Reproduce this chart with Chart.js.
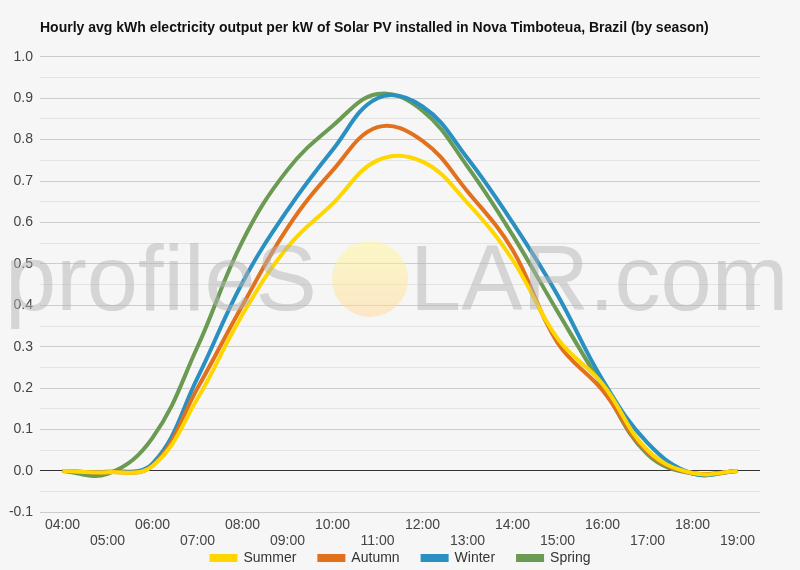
<!DOCTYPE html>
<html lang="en">
<head>
    <meta charset="UTF-8">
    <title>Hourly avg kWh electricity output - Nova Timboteua</title>
    <script src="https://cdn.jsdelivr.net/npm/chart.js"></script>
    <style>
        body { margin: 0; background-color: #f6f6f6; }
        .wrap { width: 800px; height: 570px; position: relative; }
    </style>
</head>
<body>
    <div class="wrap"><canvas id="pvChart"></canvas></div>

    <script>
        const hours = ['04:00', '05:00', '06:00', '07:00', '08:00', '09:00', '10:00', '11:00',
                       '12:00', '13:00', '14:00', '15:00', '16:00', '17:00', '18:00', '19:00'];

        const summer = [0, -0.003, 0.012, 0.175, 0.378, 0.54, 0.645, 0.75, 0.747, 0.647, 0.51, 0.32, 0.21, 0.05, -0.005, 0];
        const autumn = [0, -0.003, 0.013, 0.20, 0.40, 0.587, 0.725, 0.83, 0.797, 0.675, 0.534, 0.31, 0.195, 0.045, -0.005, 0];
        const winter = [0, -0.002, 0.018, 0.225, 0.455, 0.63, 0.775, 0.90, 0.88, 0.755, 0.60, 0.425, 0.22, 0.068, -0.006, 0];
        const spring = [0, -0.007, 0.08, 0.30, 0.555, 0.727, 0.833, 0.91, 0.87, 0.735, 0.57, 0.385, 0.205, 0.04, -0.006, 0];

        const yTicks = { min: -0.1, max: 1.0, step: 0.05 };

        const font = "Arial, 'Liberation Sans', sans-serif";

        // watermark drawn over the lines, like the original
        const watermark = {
            id: 'watermark',
            afterDatasetsDraw(chart) {
                const ctx = chart.ctx;
                ctx.save();
                ctx.font = '92px ' + font;
                ctx.textBaseline = 'alphabetic';
                ctx.fillStyle = 'rgba(180,180,180,0.5)';
                ctx.fillText('profileS', 5, 310);
                ctx.fillText('LAR.com', 410, 310);
                const g = ctx.createLinearGradient(0, 241, 0, 317);
                g.addColorStop(0, 'rgba(255,248,150,0.5)');
                g.addColorStop(1, 'rgba(255,215,150,0.5)');
                ctx.fillStyle = g;
                ctx.beginPath();
                ctx.arc(370, 279, 38, 0, Math.PI * 2);
                ctx.fill();
                ctx.restore();
            }
        };

        // legend drawn by hand: the built-in one can't sit this close to the axis labels
        const bottomLegend = {
            id: 'bottomLegend',
            afterDraw(chart) {
                const ctx = chart.ctx;
                const sets = chart.data.datasets;
                const boxW = 28, boxH = 8, gap = 6, spacing = 21, y = 558;
                ctx.save();
                ctx.font = '14px ' + font;
                ctx.textBaseline = 'middle';
                let total = 0;
                sets.forEach((s, i) => {
                    total += boxW + gap + ctx.measureText(s.label).width + (i ? spacing : 0);
                });
                let x = chart.width / 2 - total / 2;
                sets.forEach(s => {
                    ctx.fillStyle = s.borderColor;
                    ctx.fillRect(x, y - boxH / 2, boxW, boxH);
                    x += boxW + gap;
                    ctx.fillStyle = '#333';
                    ctx.fillText(s.label, x, y);
                    x += ctx.measureText(s.label).width + spacing;
                });
                ctx.restore();
            }
        };

        function makeSet(label, data, color) {
            return {
                label: label,
                data: data,
                borderColor: color,
                backgroundColor: color,
                borderWidth: 4,
                pointRadius: 0,
                tension: 0.4,
                fill: false
            };
        }

        new Chart(document.getElementById('pvChart'), {
            type: 'line',
            data: {
                labels: hours,
                datasets: [
                    makeSet('Summer', summer, '#ffd700'),
                    makeSet('Autumn', autumn, '#e2711d'),
                    makeSet('Winter', winter, '#2a8fc1'),
                    makeSet('Spring', spring, '#6b9a53')
                ]
            },
            options: {
                responsive: true,
                maintainAspectRatio: false,
                animation: false,
                layout: { padding: { left: 0, right: 0, top: 0, bottom: 16 } },
                plugins: {
                    title: {
                        display: true,
                        text: 'Hourly avg kWh electricity output per kW of Solar PV installed in Nova Timboteua, Brazil (by season)',
                        align: 'start',
                        fullSize: false,
                        color: '#111',
                        font: { family: font, size: 14, weight: 'bold' },
                        padding: { top: 20, bottom: 20 }
                    },
                    legend: { display: false },
                    tooltip: { enabled: false }
                },
                scales: {
                    x: {
                        offset: true,
                        grid: { display: false, drawTicks: false },
                        border: { display: false },
                        ticks: {
                            autoSkip: false,
                            maxRotation: 0,
                            padding: 4,
                            color: '#444',
                            font: { family: font, size: 14 },
                            callback: function (val, i) {
                                return i % 2 === 0 ? [hours[i]] : ['', hours[i]];
                            }
                        }
                    },
                    y: {
                        min: yTicks.min,
                        max: yTicks.max,
                        afterFit(scale) { scale.width = 40; },
                        border: { display: false },
                        grid: {
                            drawTicks: false,
                            lineWidth: 1,
                            color(c) {
                                const v = Math.round(c.tick.value * 100);
                                if (v === 0) return '#333';
                                return v % 10 === 0 ? '#cccccc' : '#e3e3e3';
                            }
                        },
                        ticks: {
                            stepSize: yTicks.step,
                            maxTicksLimit: 40,
                            padding: 7,
                            color: '#444',
                            font: { family: font, size: 14 },
                            callback(v) {
                                const n = Math.round(v * 100);
                                return n % 10 === 0 ? (n / 100).toFixed(1) : '';
                            }
                        }
                    },
                    // empty right-hand axis, only keeps the plot area off the right edge
                    yRight: {
                        position: 'right',
                        afterFit(scale) { scale.width = 40; },
                        grid: { display: false, drawTicks: false },
                        border: { display: false },
                        ticks: { display: false }
                    }
                }
            },
            plugins: [watermark, bottomLegend]
        });
    </script>
</body>
</html>
